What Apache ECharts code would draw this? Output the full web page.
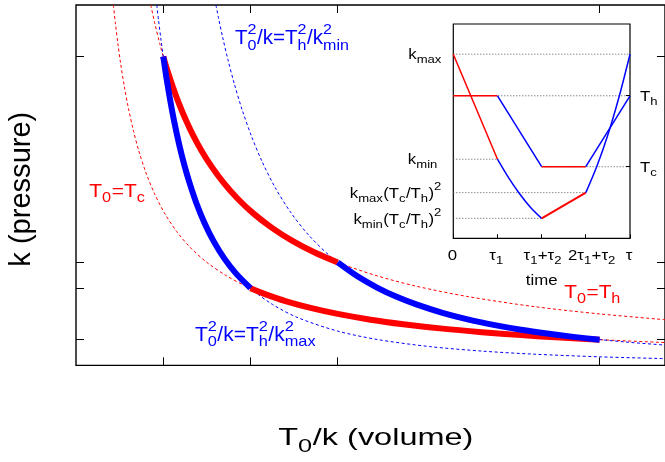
<!DOCTYPE html>
<html><head><meta charset="utf-8">
<script src="https://cdn.jsdelivr.net/npm/echarts@6/dist/echarts.min.js"></script>
<style>html,body{margin:0;padding:0;background:#fff}#c{width:665px;height:462px}</style>
</head><body><div id="c"></div>
<script>
// ---------------- data (main diagram: x = T0/k, y = k) ----------------
const xTickVals = [0.6667, 1.3333, 2, 4];
const yTickVals = [0.25, 0.75, 1, 3];
// dashed reference curves
const isoTcDashed = [[0.2857,3.5],[0.3,3.333],[0.32,3.125],[0.34,2.941],[0.37,2.703],[0.4,2.5],[0.44,2.273],[0.48,2.083],[0.53,1.887],[0.6,1.667],[0.68,1.471],[0.77,1.299],[0.87,1.149],[1.0,1.0],[1.15,0.870],[1.3,0.769],[1.5,0.667],[1.75,0.571],[2.0,0.5],[2.3,0.435],[2.65,0.377],[3.0,0.333],[3.5,0.286],[4.0,0.25],[4.5,0.222]];
const isoThDashed = [[0.5714,3.5],[0.6,3.333],[0.64,3.125],[0.68,2.941],[0.74,2.703],[0.8,2.5],[0.88,2.273],[0.96,2.083],[1.06,1.887],[1.2,1.667],[1.36,1.471],[1.54,1.299],[1.74,1.149],[2.0,1.0],[2.3,0.870],[2.6,0.769],[3.0,0.667],[3.5,0.571],[4.0,0.5],[4.5,0.444]];
const adiKmaxDashed = [[0.6172,3.5],[0.63,3.359],[0.65,3.156],[0.67,2.970],[0.7,2.721],[0.73,2.502],[0.77,2.249],[0.81,2.032],[0.86,1.803],[0.92,1.575],[1.0,1.333],[1.1,1.102],[1.2,0.926],[1.333,0.75],[1.5,0.593],[1.7,0.461],[2.0,0.333],[2.3,0.252],[2.7,0.183],[3.1,0.139],[3.5,0.109],[4.0,0.0833],[4.5,0.0658]];
const adiKminDashed = [[1.069,3.5],[1.09,3.367],[1.12,3.189],[1.16,2.973],[1.21,2.732],[1.27,2.480],[1.34,2.228],[1.42,1.984],[1.52,1.731],[1.64,1.487],[1.78,1.262],[1.95,1.052],[2.15,0.865],[2.4,0.694],[2.7,0.549],[3.0,0.444],[3.4,0.346],[3.8,0.277],[4.2,0.227],[4.5,0.1975]];
// thick cycle branches
const cycleIsoTh = [[0.6667,3.0],[0.7,2.857],[0.74,2.703],[0.78,2.564],[0.83,2.410],[0.89,2.247],[0.96,2.083],[1.04,1.923],[1.13,1.770],[1.23,1.626],[1.35,1.481],[1.5,1.333],[1.65,1.212],[1.82,1.099],[2.0,1.0]];
const cycleIsoTc = [[1.3333,0.75],[1.45,0.690],[1.6,0.625],[1.8,0.556],[2.0,0.5],[2.25,0.444],[2.5,0.4],[2.8,0.357],[3.1,0.323],[3.4,0.294],[3.7,0.270],[4.0,0.25]];
const cycleAdiKmin = [[2.0,1.0],[2.15,0.865],[2.3,0.756],[2.45,0.666],[2.6,0.592],[2.8,0.510],[3.0,0.444],[3.2,0.391],[3.4,0.346],[3.6,0.309],[3.8,0.277],[4.0,0.25]];
const cycleAdiKmax = [[0.6667,3.0],[0.69,2.801],[0.72,2.572],[0.75,2.370],[0.79,2.136],[0.83,1.935],[0.87,1.762],[0.92,1.575],[0.98,1.388],[1.05,1.209],[1.13,1.044],[1.22,0.896],[1.3333,0.75]];

// ---------------- inset data (time protocol) ----------------
const timeTicks = [0, 1, 2, 3, 4];
const tLevelTicks = [6.65, 3.34];
const kRed1 = [[0,8.59],[1,3.69]];
const kBlue1 = [[1,3.69],[1.25,2.83],[1.5,2.08],[1.75,1.44],[2,0.93]];
const kRed2 = [[2,0.93],[3,2.13]];
const kBlue2 = [[3,2.13],[3.25,3.36],[3.5,4.83],[3.75,6.58],[4,8.59]];
const tRed1 = [[0,6.65],[1,6.65]];
const tBlue1 = [[1,6.65],[2,3.34]];
const tRed2 = [[2,3.34],[3,3.34]];
const tBlue2 = [[3,3.34],[4,6.65]];
const refDotted = [
  [[0,8.59],[4,8.59]],
  [[0,6.65],[4,6.65]],
  [[0,3.69],[1,3.69]],
  [[2,3.34],[4,3.34]],
  [[0,2.13],[3,2.13]],
  [[0,0.93],[2,0.93]]
];
const insetLeftLabels = [
  [['k',{sub:'max'}], 8.59],
  [['k',{sub:'min'}], 3.69],
  [['k',{sub:'max'},'(T',{sub:'c'},'/T',{sub:'h'},')',{sup:'2'}], 2.13],
  [['k',{sub:'min'},'(T',{sub:'c'},'/T',{sub:'h'},')',{sup:'2'}], 0.93]
];
const insetRightLabels = [
  [['T',{sub:'h'}], 6.65],
  [['T',{sub:'c'}], 3.34]
];
const timeLabels = [['0'], ['\u03c4',{sub:'1'}], ['\u03c4',{sub:'1'},'+\u03c4',{sub:'2'}], ['2\u03c4',{sub:'1'},'+\u03c4',{sub:'2'}], ['\u03c4']];

// ---------------- chart ----------------
const RED = '#ff0000', BLUE = '#0000ff';
const chart = echarts.init(document.getElementById('c'), null, {renderer:'canvas'});
function dashed(data, color){ return {type:'line', xAxisIndex:0, yAxisIndex:0, data, symbol:'none', smooth:0.3, lineStyle:{color, width:1, type:[3,2.5]}, silent:true}; }
function thick(data, color){ return {type:'line', xAxisIndex:0, yAxisIndex:0, data, symbol:'none', smooth:0.3, lineStyle:{color, width:6, cap:'butt', join:'round'}, silent:true}; }
function thin(data, color, w){ return {type:'line', xAxisIndex:1, yAxisIndex:1, data, symbol:'none', smooth:0.3, lineStyle:{color, width:w||1.5}, silent:true, z:5}; }
function dotted(data){ return {type:'line', xAxisIndex:1, yAxisIndex:1, data, symbol:'none', lineStyle:{color:'#555', width:1, type:[1,2]}, silent:true, z:4}; }

const hideAx = {axisLine:{show:false}, axisLabel:{show:false}, splitLine:{show:false}, axisTick:{show:false}};
chart.setOption({
  animation:false,
  backgroundColor:'#fff',
  grid:[
    {left:76, top:5, right:-5, bottom:96.6, show:true, borderColor:'#000', borderWidth:1.4, backgroundColor:'transparent'},
    {left:453.3, top:24, right:35, bottom:223.7, show:true, borderColor:'#000', borderWidth:1.2, backgroundColor:'#fff', z:3}
  ],
  xAxis:[
    Object.assign({gridIndex:0, type:'value', min:0, max:4.5}, hideAx),
    Object.assign({gridIndex:1, type:'value', min:0, max:4, interval:1}, hideAx)
  ],
  yAxis:[
    Object.assign({gridIndex:0, type:'value', min:0, max:3.5}, hideAx),
    Object.assign({gridIndex:1, type:'value', min:0, max:10}, hideAx)
  ],
  series:[
    dashed(isoTcDashed, RED), dashed(isoThDashed, RED),
    dashed(adiKmaxDashed, BLUE), dashed(adiKminDashed, BLUE),
    thick(cycleIsoTh, RED), thick(cycleIsoTc, RED),
    thick(cycleAdiKmin, BLUE), thick(cycleAdiKmax, BLUE),
    ...refDotted.map(dotted),
    thin(kRed1, RED), thin(kBlue1, BLUE), thin(kRed2, RED, 2), thin(kBlue2, BLUE),
    thin(tRed1, RED), thin(tBlue1, BLUE), thin(tRed2, RED), thin(tBlue2, BLUE)
  ]
});

// ---------------- math-style text labels ----------------
const FF = '"Liberation Sans", Arial, Helvetica, sans-serif';
const mctx = document.createElement('canvas').getContext('2d');
function tw(s, sz){ mctx.font = sz + 'px ' + FF; return mctx.measureText(s).width; }
function piece(s, x, y, sz, color){ return {type:'text', x, y, silent:true, style:{text:s, font: sz + 'px ' + FF, fill:color, align:'left', verticalAlign:'middle'}}; }
function buildMath(parts, sz, color){
  const ss = sz * 0.78; let x = 0; const kids = [];
  parts.forEach(p => {
    if (typeof p === 'string'){ kids.push(piece(p, x, 0, sz, color)); x += tw(p, sz); }
    else {
      let w = 0;
      if (p.sub){ kids.push(piece(p.sub, x, sz*0.33, ss, color)); w = Math.max(w, tw(p.sub, ss)); }
      if (p.sup){ kids.push(piece(p.sup, x, -sz*0.45, ss, color)); w = Math.max(w, tw(p.sup, ss)); }
      x += w + sz*0.02;
    }
  });
  return {kids, width:x};
}
function label(parts, o){
  const m = buildMath(parts, o.sz, o.color || '#000');
  const s = o.width ? o.width / m.width : (o.scale || 1);
  let off = 0;
  if (o.anchor === 'center') off = -m.width/2; else if (o.anchor === 'right') off = -m.width;
  m.kids.forEach(k => { k.x += off; });
  return {type:'group', x:o.x, y:o.y, scaleX:s, rotation:o.rot || 0, children:m.kids, silent:true, z:10};
}
function tick(x1, y1, x2, y2){ return {type:'line', silent:true, z:9, shape:{x1, y1, x2, y2}, style:{stroke:'#000', lineWidth:1}}; }
const crisp = v => Math.round(v - 0.5) + 0.5;

const g = [];
// main ticks (inward, mirrored on all four sides)
const mainRect = chart.getModel().getComponent('grid', 0).coordinateSystem.getRect();
const L = mainRect.x, R = mainRect.x + mainRect.width, T = mainRect.y, B = mainRect.y + mainRect.height;
xTickVals.forEach(v => {
  const px = crisp(chart.convertToPixel({xAxisIndex:0}, v));
  g.push(tick(px, B, px, B - 8));
  g.push(tick(px, T, px, T + 8));
});
yTickVals.forEach(v => {
  const py = crisp(chart.convertToPixel({yAxisIndex:0}, v));
  g.push(tick(L, py, L + 8, py));
  g.push(tick(R, py, R - 8, py));
});
// inset ticks
const insRect = chart.getModel().getComponent('grid', 1).coordinateSystem.getRect();
const iR = insRect.x + insRect.width, iB = insRect.y + insRect.height;
timeTicks.forEach(v => {
  const px = crisp(chart.convertToPixel({xAxisIndex:1}, v));
  g.push(tick(px, iB, px, iB - 4));
});
tLevelTicks.forEach(v => {
  const py = crisp(chart.convertToPixel({yAxisIndex:1}, v));
  g.push(tick(iR, py, iR - 4, py));
});

g.push(label(['T',{sub:'0'},'=T',{sub:'c'}], {x:89.3, y:191.7, width:56, sz:18.5, color:RED}));
g.push(label(['T',{sub:'0',sup:'2'},'/k=T',{sub:'h',sup:'2'},'/k',{sub:'min',sup:'2'}], {x:235, y:38.9, width:114.3, sz:19.5, color:BLUE}));
g.push(label(['T',{sub:'0',sup:'2'},'/k=T',{sub:'h',sup:'2'},'/k',{sub:'max',sup:'2'}], {x:195, y:335.5, width:121, sz:19.5, color:BLUE}));
g.push(label(['T',{sub:'0'},'=T',{sub:'h'}], {x:564.3, y:292.9, width:56.5, sz:19, color:RED}));
g.push(label(['k (pressure)'], {x:22.3, y:189.2, width:155, sz:29, anchor:'center', rot:Math.PI/2}));
g.push(label(['T',{sub:'0'},'/k (volume)'], {x:375.8, y:438.7, width:195, sz:24.5, anchor:'center'}));

const INS = 15, INSC = 1.12;
const leftRight = [441.7, 437.7, 441.7, 441.7];
insetLeftLabels.forEach((l, i) => {
  const py = chart.convertToPixel({yAxisIndex:1}, l[1]);
  g.push(label(l[0], {x:leftRight[i], y:py + 1, sz:INS, scale:INSC, anchor:'right'}));
});
insetRightLabels.forEach(l => {
  const py = chart.convertToPixel({yAxisIndex:1}, l[1]);
  g.push(label(l[0], {x:640, y:py + 1.5, sz:INS, scale:INSC}));
});
const timeDx = [-1, -1, 1, 6, -1];
timeLabels.forEach((l, i) => {
  const px = chart.convertToPixel({xAxisIndex:1}, timeTicks[i]);
  g.push(label(l, {x:px + timeDx[i], y:255.8, sz:INS, scale:INSC, anchor:'center'}));
});
g.push(label(['time'], {x:541.7, y:281, sz:INS, scale:INSC, anchor:'center'}));
chart.setOption({graphic:g});
</script></body></html>
